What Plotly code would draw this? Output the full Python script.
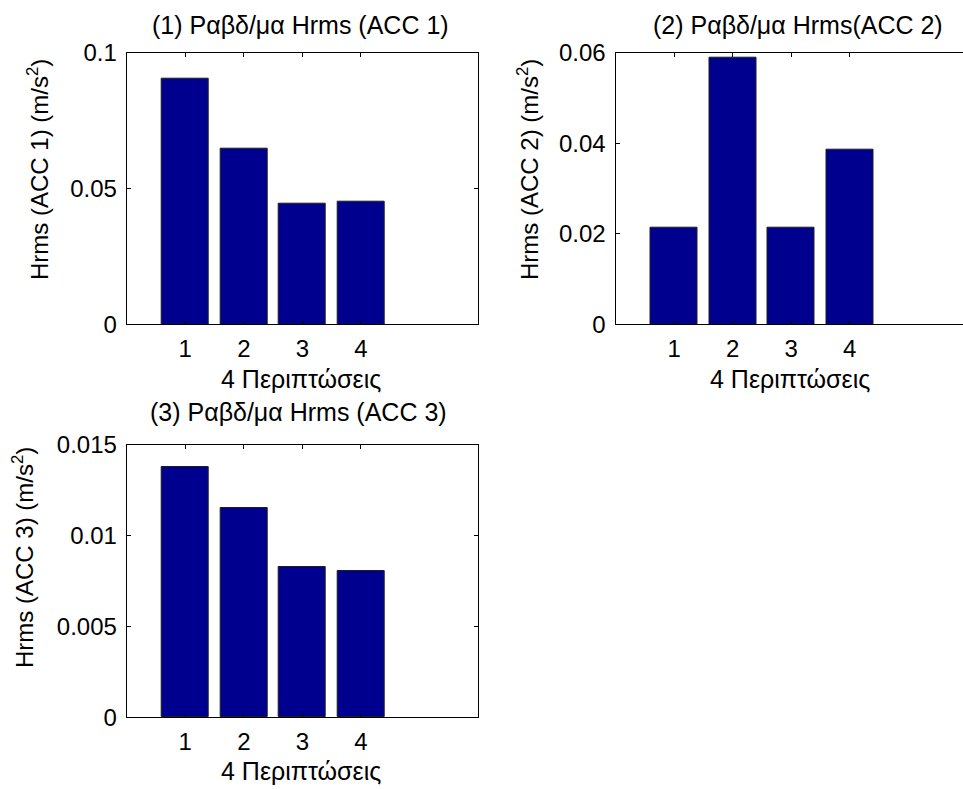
import plotly.graph_objects as go

W, H = 963, 789

# ---- data ----
cases = [1, 2, 3, 4]
acc1 = [0.0903, 0.0648, 0.0444, 0.0451]
acc2 = [0.0214, 0.0590, 0.0214, 0.0385]
acc3 = [0.0138, 0.01151, 0.00828, 0.00804]

titles = ["(1) Ραβδ/μα Hrms (ACC 1)", "(2) Ραβδ/μα Hrms(ACC 2)", "(3) Ραβδ/μα Hrms (ACC 3)"]
ylabels = ["Hrms (ACC 1) (m/s<sup>2</sup>)", "Hrms (ACC 2) (m/s<sup>2</sup>)", "Hrms (ACC 3) (m/s<sup>2</sup>)"]
xlabel = "4 Περιπτώσεις"
ytick_vals = [[0, 0.05, 0.1], [0, 0.02, 0.04, 0.06], [0, 0.005, 0.01, 0.015]]
ytick_text = [["0", "0.05", "0.1"], ["0", "0.02", "0.04", "0.06"], ["0", "0.005", "0.01", "0.015"]]
yranges = [[0, 0.1], [0, 0.06], [0, 0.015]]

BAR = "rgb(0,0,143)"
FONT = "Liberation Sans, Arial, sans-serif"
FS = 24
FS_T = 25

def px(x):
    return x / W

def py(y):
    return 1 - y / H

# axes pixel boxes: (left, right, top, bottom)
boxes = [(126.7, 478.0, 52.7, 324.3), (615.5, 963.0, 52.7, 324.3), (126.7, 478.0, 445.0, 717.3)]
unit = (478.0 - 126.7) / 6.0
xranges = [[0, 6], [0, (963 - 615.5) / unit], [0, 6]]

fig = go.Figure()
data = [acc1, acc2, acc3]
for i in range(3):
    sfx = "" if i == 0 else str(i + 1)
    fig.add_trace(go.Bar(
        x=cases, y=data[i], width=0.8,
        marker=dict(color=BAR, line=dict(color="rgb(30,30,30)", width=1)),
        xaxis="x" + sfx, yaxis="y" + sfx, showlegend=False,
    ))
    l, r, t, b = boxes[i]
    fig.layout["xaxis" + sfx] = dict(
        domain=[px(l), px(r)], range=xranges[i], anchor="y" + sfx,
        tickvals=cases, ticktext=[str(c) for c in cases],
        ticks="inside", ticklen=4, tickcolor="black",
        showline=True, linecolor="black", linewidth=1, mirror="ticks",
        showgrid=False, zeroline=False, fixedrange=True,
        tickfont=dict(family=FONT, size=FS, color="black"),
        ticklabelstandoff=3,
    )
    fig.layout["yaxis" + sfx] = dict(
        domain=[py(b), py(t)], range=yranges[i], anchor="x" + sfx,
        tickvals=ytick_vals[i], ticktext=ytick_text[i],
        ticks="inside", ticklen=4, tickcolor="black",
        showline=True, linecolor="black", linewidth=1,
        mirror=("ticks" if i != 1 else False),
        showgrid=False, zeroline=False, fixedrange=True,
        tickfont=dict(family=FONT, size=FS, color="black"),
        ticklabelstandoff=4,
    )

title_pos = [(300, 25), (798, 25), (298, 412)]
ylabel_pos = [(38, 170), (528, 170), (23, 558)]
xlabel_pos = [(301, 379), (790, 379), (301, 771)]

ann = []
for i in range(3):
    ann.append(dict(text=titles[i], x=px(title_pos[i][0]), y=py(title_pos[i][1]),
                    xref="paper", yref="paper", xanchor="center", yanchor="middle",
                    showarrow=False, font=dict(family=FONT, size=FS_T, color="black")))
    ann.append(dict(text=ylabels[i], x=px(ylabel_pos[i][0]), y=py(ylabel_pos[i][1]),
                    xref="paper", yref="paper", xanchor="center", yanchor="middle",
                    textangle=-90, showarrow=False,
                    font=dict(family=FONT, size=FS, color="black")))
    ann.append(dict(text=xlabel, x=px(xlabel_pos[i][0]), y=py(xlabel_pos[i][1]),
                    xref="paper", yref="paper", xanchor="center", yanchor="middle",
                    showarrow=False, font=dict(family=FONT, size=FS_T, color="black")))

fig.update_layout(
    width=W, height=H, margin=dict(l=0, r=0, t=0, b=0, autoexpand=False),
    paper_bgcolor="white", plot_bgcolor="white",
    annotations=ann, bargap=0,
)

fig.write_html("out.html", config={"displayModeBar": False},
               post_script="document.body.style.margin='0';document.body.style.overflow='hidden';")
